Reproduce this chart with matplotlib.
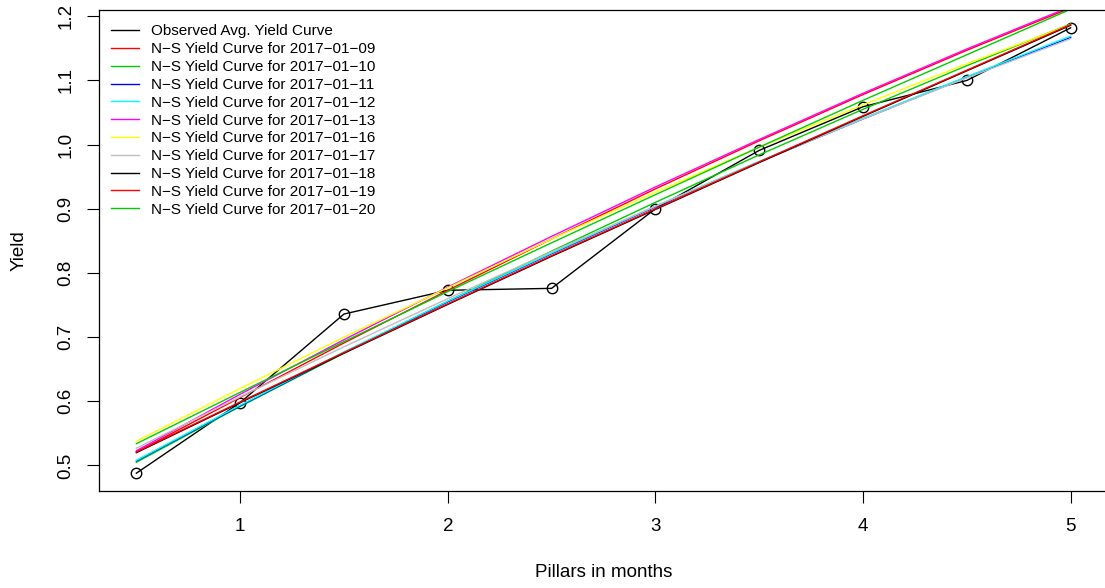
import matplotlib
matplotlib.use("Agg")
import matplotlib.pyplot as plt

plt.rcParams['font.family'] = ['Liberation Sans', 'DejaVu Sans']

# pillars (months) and observed average yields
pillars = [0.5, 1.0, 1.5, 2.0, 2.5, 3.0, 3.5, 4.0, 4.5, 5.0]
observed = [0.488, 0.598, 0.736, 0.773, 0.776, 0.900, 0.991, 1.059, 1.100, 1.182]

ns_dates = ['2017-01-09', '2017-01-10', '2017-01-11', '2017-01-12', '2017-01-13',
            '2017-01-16', '2017-01-17', '2017-01-18', '2017-01-19', '2017-01-20']
ns_0109 = [0.521, 0.606, 0.691, 0.773, 0.853, 0.931, 1.006, 1.078, 1.147, 1.213]
ns_0110 = [0.505, 0.592, 0.675, 0.756, 0.834, 0.910, 0.984, 1.055, 1.123, 1.188]
ns_0111 = [0.507, 0.593, 0.676, 0.755, 0.830, 0.903, 0.973, 1.040, 1.105, 1.167]
ns_0112 = [0.508, 0.594, 0.677, 0.756, 0.831, 0.904, 0.974, 1.041, 1.106, 1.169]
ns_0113 = [0.523, 0.611, 0.696, 0.778, 0.857, 0.934, 1.008, 1.080, 1.149, 1.215]
ns_0116 = [0.538, 0.620, 0.700, 0.777, 0.853, 0.926, 0.996, 1.062, 1.126, 1.187]
ns_0117 = [0.527, 0.607, 0.685, 0.760, 0.833, 0.904, 0.973, 1.040, 1.104, 1.165]
ns_0118 = [0.520, 0.598, 0.675, 0.751, 0.826, 0.899, 0.972, 1.044, 1.115, 1.186]
ns_0119 = [0.521, 0.599, 0.676, 0.752, 0.827, 0.900, 0.973, 1.045, 1.116, 1.187]
ns_0120 = [0.534, 0.614, 0.693, 0.771, 0.847, 0.922, 0.996, 1.069, 1.140, 1.211]
ns_curves = [ns_0109, ns_0110, ns_0111, ns_0112, ns_0113,
             ns_0116, ns_0117, ns_0118, ns_0119, ns_0120]
ns_colors = ['#FF0000', '#00CD00', '#0000FF', '#00FFFF', '#FF00FF',
             '#FFFF00', '#BEBEBE', '#000000', '#FF0000', '#00CD00']

fig = plt.figure(figsize=(11.05, 5.88), dpi=100)
ax = fig.add_axes([99 / 1105, 97 / 588, 1009 / 1105, 481 / 588])

# R style 4% padding around observed data
xr = max(pillars) - min(pillars)
yr = max(observed) - min(observed)
ax.set_xlim(min(pillars) - 0.04 * xr, max(pillars) + 0.04 * xr)
ax.set_ylim(min(observed) - 0.04 * yr, max(observed) + 0.04 * yr)

ax.plot(pillars, observed, color='black', lw=1.0, label='Observed Avg. Yield Curve')
ax.plot(pillars, observed, ls='none', marker='o', ms=7.5,
        mfc='none', mec='black', mew=1.0)
for d, vals, c in zip(ns_dates, ns_curves, ns_colors):
    ax.plot(pillars, vals, color=c, lw=1.0,
            label='N\u2212S Yield Curve for ' + d.replace('-', '\u2212'))

ax.set_xticks([1, 2, 3, 4, 5])
ax.set_xticklabels(['1', '2', '3', '4', '5'])
yt = [0.5, 0.6, 0.7, 0.8, 0.9, 1.0, 1.1, 1.2]
ax.set_yticks(yt)
ax.set_yticklabels(['%.1f' % v for v in yt], rotation=90, va='center')
ax.tick_params(direction='out', length=8.5, width=0.8, labelsize=13.5)
ax.tick_params(axis='x', pad=11)
ax.tick_params(axis='y', pad=9)
for s in ax.spines.values():
    s.set_linewidth(0.9)
ax.spines['right'].set_visible(False)

ax.set_xlabel('Pillars in months', fontsize=13.5)
ax.xaxis.set_label_coords(0.5, -0.152)
ax.set_ylabel('Yield', fontsize=13.5)
ax.yaxis.set_label_coords(-0.071, 0.5)

ax.legend(loc='upper left', bbox_to_anchor=(0.012, 0.97), frameon=False,
          fontsize=11, handlelength=1.8, handletextpad=0.8, labelspacing=0.25,
          borderaxespad=0, borderpad=0)

fig.savefig('out.png', dpi=100)
